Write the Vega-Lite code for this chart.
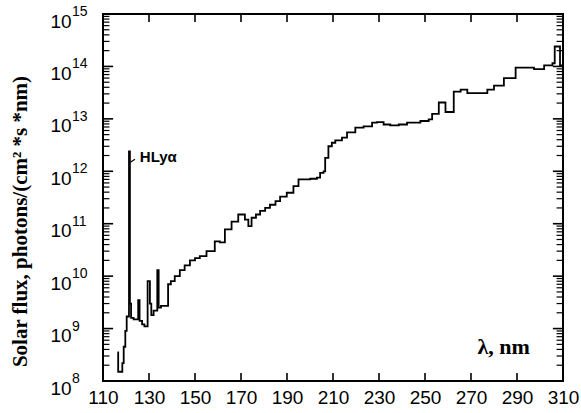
{
  "$schema": "https://vega.github.io/schema/vega-lite/v6.json",
  "autosize": "none",
  "width": 460,
  "height": 367,
  "padding": {"left": 103, "top": 14, "right": 18, "bottom": 32},
  "background": "white",
  "config": {
    "view": {"stroke": "black", "strokeWidth": 2},
    "axis": {"domain": false, "grid": false, "ticks": false, "tickSize": 0, "labelColor": "black", "labelFont": "Liberation Sans", "labelFontSize": 19, "titleColor": "black"}
  },
  "datasets": {
    "flux": [
      {"wl": 116.3, "f": 3.5e8}, {"wl": 116.6, "f": 1.5e8}, {"wl": 118.4, "f": 2.2e8}, {"wl": 119.0, "f": 4.5e8},
      {"wl": 119.7, "f": 9e8}, {"wl": 120.3, "f": 1.7e9}, {"wl": 121.3, "f": 2.4e12}, {"wl": 121.7, "f": 3.0e9},
      {"wl": 122.2, "f": 1.6e9}, {"wl": 123.3, "f": 1.5e9}, {"wl": 125.3, "f": 3.5e9}, {"wl": 125.9, "f": 1.4e9},
      {"wl": 127.0, "f": 1.2e9}, {"wl": 128.0, "f": 1.1e9}, {"wl": 129.4, "f": 8e9}, {"wl": 130.4, "f": 3e9},
      {"wl": 131.0, "f": 1.8e9}, {"wl": 132.0, "f": 2.2e9}, {"wl": 133.6, "f": 1.3e10}, {"wl": 134.2, "f": 2.5e9},
      {"wl": 135.2, "f": 2.7e9}, {"wl": 138.3, "f": 7e9}, {"wl": 139.5, "f": 8e9}, {"wl": 141.2, "f": 1e10},
      {"wl": 143.4, "f": 1.3e10}, {"wl": 145.5, "f": 1.6e10}, {"wl": 147.8, "f": 2e10}, {"wl": 150.0, "f": 2.2e10},
      {"wl": 152.1, "f": 2.4e10}, {"wl": 155.0, "f": 3e10}, {"wl": 158.6, "f": 4.6e10}, {"wl": 160.8, "f": 4.4e10},
      {"wl": 163.0, "f": 7.8e10}, {"wl": 165.9, "f": 1.1e11}, {"wl": 168.8, "f": 1.5e11}, {"wl": 171.7, "f": 1.2e11},
      {"wl": 173.2, "f": 9e10}, {"wl": 174.6, "f": 1.3e11}, {"wl": 176.5, "f": 1.5e11}, {"wl": 178.3, "f": 1.75e11},
      {"wl": 180.5, "f": 2e11}, {"wl": 182.6, "f": 2.3e11}, {"wl": 185.0, "f": 2.7e11}, {"wl": 187.0, "f": 3.3e11},
      {"wl": 189.9, "f": 3.9e11}, {"wl": 192.8, "f": 5.2e11}, {"wl": 195.0, "f": 7e11}, {"wl": 200.1, "f": 7.2e11},
      {"wl": 203.0, "f": 7.6e11}, {"wl": 204.4, "f": 9.3e11}, {"wl": 205.9, "f": 1e12}, {"wl": 206.6, "f": 1.8e12},
      {"wl": 208.0, "f": 3e12}, {"wl": 209.5, "f": 3.5e12}, {"wl": 211.0, "f": 3.9e12}, {"wl": 213.9, "f": 4.4e12},
      {"wl": 216.1, "f": 5.5e12}, {"wl": 219.7, "f": 6.8e12}, {"wl": 223.3, "f": 7.2e12}, {"wl": 227.0, "f": 8.5e12},
      {"wl": 229.1, "f": 8.7e12}, {"wl": 232.0, "f": 7.8e12}, {"wl": 234.9, "f": 7.5e12}, {"wl": 238.6, "f": 7.8e12},
      {"wl": 242.2, "f": 8.5e12}, {"wl": 248.0, "f": 9.1e12}, {"wl": 251.6, "f": 9.8e12}, {"wl": 253.1, "f": 1.25e13},
      {"wl": 256.0, "f": 2.05e13}, {"wl": 258.9, "f": 1.35e13}, {"wl": 262.5, "f": 3.3e13}, {"wl": 265.5, "f": 3.6e13},
      {"wl": 268.4, "f": 3.1e13}, {"wl": 277.1, "f": 3.6e13}, {"wl": 280.0, "f": 4.3e13}, {"wl": 284.3, "f": 6e13},
      {"wl": 289.4, "f": 9.5e13}, {"wl": 297.4, "f": 8.9e13}, {"wl": 301.8, "f": 1.05e14}, {"wl": 305.4, "f": 1.15e14},
      {"wl": 306.4, "f": 2.4e14}, {"wl": 308.7, "f": 1.05e14}, {"wl": 310.0, "f": 1.05e14}
    ],
    "exponents": [
      {"v": 1e8, "e": "8"}, {"v": 1e9, "e": "9"}, {"v": 1e10, "e": "10"}, {"v": 1e11, "e": "11"},
      {"v": 1e12, "e": "12"}, {"v": 1e13, "e": "13"}, {"v": 1e14, "e": "14"}, {"v": 1e15, "e": "15"}
    ],
    "yminor": [
      {"v": 2e8}, {"v": 3e8}, {"v": 4e8}, {"v": 5e8}, {"v": 6e8}, {"v": 7e8}, {"v": 8e8}, {"v": 9e8},
      {"v": 2e9}, {"v": 3e9}, {"v": 4e9}, {"v": 5e9}, {"v": 6e9}, {"v": 7e9}, {"v": 8e9}, {"v": 9e9},
      {"v": 2e10}, {"v": 3e10}, {"v": 4e10}, {"v": 5e10}, {"v": 6e10}, {"v": 7e10}, {"v": 8e10}, {"v": 9e10},
      {"v": 2e11}, {"v": 3e11}, {"v": 4e11}, {"v": 5e11}, {"v": 6e11}, {"v": 7e11}, {"v": 8e11}, {"v": 9e11},
      {"v": 2e12}, {"v": 3e12}, {"v": 4e12}, {"v": 5e12}, {"v": 6e12}, {"v": 7e12}, {"v": 8e12}, {"v": 9e12},
      {"v": 2e13}, {"v": 3e13}, {"v": 4e13}, {"v": 5e13}, {"v": 6e13}, {"v": 7e13}, {"v": 8e13}, {"v": 9e13},
      {"v": 2e14}, {"v": 3e14}, {"v": 4e14}, {"v": 5e14}, {"v": 6e14}, {"v": 7e14}, {"v": 8e14}, {"v": 9e14}
    ],
    "xticks": [
      {"w": 130}, {"w": 150}, {"w": 170}, {"w": 190}, {"w": 210}, {"w": 230}, {"w": 250}, {"w": 270}, {"w": 290}
    ]
  },
  "data": {"name": "flux"},
  "layer": [
    {
      "mark": {"type": "line", "interpolate": "step-after", "color": "black", "strokeWidth": 1.8},
      "encoding": {
        "x": {"field": "wl", "type": "quantitative",
          "scale": {"domain": [110, 310], "nice": false, "zero": false},
          "axis": {"orient": "bottom", "values": [110, 130, 150, 170, 190, 210, 230, 250, 270, 290, 310],
            "labelPadding": 7, "labelFlush": false,
            "title": "λ, nm", "titleFont": "Liberation Serif", "titleFontSize": 22, "titleFontWeight": "bold",
            "titleAnchor": "start", "titleAlign": "left", "titleBaseline": "alphabetic", "titleX": 374, "titleY": -28}},
        "y": {"field": "f", "type": "quantitative",
          "scale": {"type": "log", "domain": [1e8, 1e15], "nice": false},
          "axis": {"orient": "left", "values": [1e8, 1e9, 1e10, 1e11, 1e12, 1e13, 1e14, 1e15],
            "labelExpr": "'10'",
            "labelAlign": "left", "labelBaseline": "middle", "labelPadding": 53, "labelOffset": 7, "labelFlush": false, "labelOverlap": false,
            "title": "Solar flux, photons/(cm² *s *nm)", "titleFont": "Liberation Serif", "titleFontSize": 21, "titleFontWeight": "bold",
            "titleAngle": -90, "titleAlign": "center", "titleBaseline": "middle", "titleX": -83, "titleY": 207}}
      }
    },
    {
      "data": {"name": "exponents"},
      "mark": {"type": "rule", "color": "black", "strokeWidth": 1.6},
      "encoding": {"x": {"datum": 110, "type": "quantitative"}, "x2": {"datum": 114.4}, "y": {"field": "v", "type": "quantitative"}}
    },
    {
      "data": {"name": "exponents"},
      "mark": {"type": "rule", "color": "black", "strokeWidth": 1.6},
      "encoding": {"x": {"datum": 310, "type": "quantitative"}, "x2": {"datum": 305.6}, "y": {"field": "v", "type": "quantitative"}}
    },
    {
      "data": {"name": "yminor"},
      "mark": {"type": "rule", "color": "black", "strokeWidth": 1.2},
      "encoding": {"x": {"datum": 110, "type": "quantitative"}, "x2": {"datum": 112.8}, "y": {"field": "v", "type": "quantitative"}}
    },
    {
      "data": {"name": "yminor"},
      "mark": {"type": "rule", "color": "black", "strokeWidth": 1.2},
      "encoding": {"x": {"datum": 310, "type": "quantitative"}, "x2": {"datum": 307.2}, "y": {"field": "v", "type": "quantitative"}}
    },
    {
      "data": {"name": "xticks"},
      "mark": {"type": "rule", "color": "black", "strokeWidth": 1.6},
      "encoding": {"x": {"field": "w", "type": "quantitative"}, "y": {"datum": 1e8, "type": "quantitative"}, "y2": {"datum": 1.42e8}}
    },
    {
      "data": {"name": "xticks"},
      "mark": {"type": "rule", "color": "black", "strokeWidth": 1.6},
      "encoding": {"x": {"field": "w", "type": "quantitative"}, "y": {"datum": 1e15, "type": "quantitative"}, "y2": {"datum": 7.04e14}}
    },
    {
      "data": {"values": [{"x1": 121.9, "x2": 123.9, "y1": 1.48e12, "y2": 1.7e12}]},
      "mark": {"type": "rule", "color": "black", "strokeWidth": 1.2},
      "encoding": {
        "x": {"field": "x1", "type": "quantitative"},
        "x2": {"field": "x2"},
        "y": {"field": "y1", "type": "quantitative"},
        "y2": {"field": "y2"}
      }
    },
    {
      "data": {"values": [{"x": 126.0, "y": 1.9e12, "label": "HLyα"}]},
      "mark": {"type": "text", "align": "left", "baseline": "middle", "font": "Liberation Sans", "fontSize": 15, "fontWeight": "bold", "color": "black"},
      "encoding": {
        "x": {"field": "x", "type": "quantitative"},
        "y": {"field": "y", "type": "quantitative"},
        "text": {"field": "label"}
      }
    },
    {
      "data": {"name": "exponents"},
      "mark": {"type": "text", "align": "left", "baseline": "middle", "font": "Liberation Sans", "fontSize": 14, "color": "black", "dx": -31, "dy": -2},
      "encoding": {
        "x": {"datum": 110, "type": "quantitative"},
        "y": {"field": "v", "type": "quantitative"},
        "text": {"field": "e"}
      }
    }
  ]
}
